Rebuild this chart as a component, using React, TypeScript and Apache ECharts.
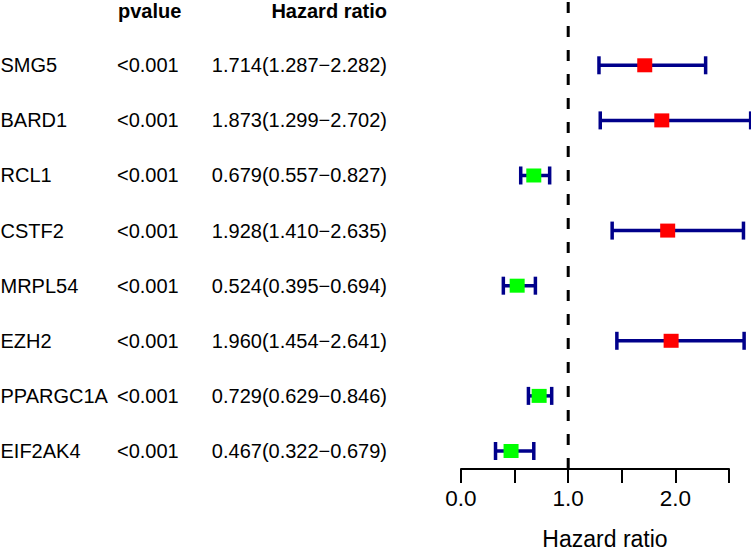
import React, { useEffect, useRef } from "react";
import * as echarts from "echarts";

const genes = ["SMG5", "BARD1", "RCL1", "CSTF2", "MRPL54", "EZH2", "PPARGC1A", "EIF2AK4"];
const pvalues = ["<0.001", "<0.001", "<0.001", "<0.001", "<0.001", "<0.001", "<0.001", "<0.001"];
const hr = [1.714, 1.873, 0.679, 1.928, 0.524, 1.96, 0.729, 0.467];
const hrLow = [1.287, 1.299, 0.557, 1.41, 0.395, 1.454, 0.629, 0.322];
const hrHigh = [2.282, 2.702, 0.827, 2.635, 0.694, 2.641, 0.846, 0.679];
const xTicks = { min: 0, max: 2.5, interval: 0.5 };

const FONT = "'Liberation Sans', Arial, sans-serif";
const Y_MIN = 0.673;
const Y_MAX = 9.185;

export default function App() {
  const ref = useRef<HTMLDivElement>(null);
  useEffect(() => {
    if (!ref.current) return;
    const chart = echarts.init(ref.current, undefined, { renderer: "svg" });
    const n = genes.length;
    const data = genes.map((g, i) => [hr[i], hrLow[i], hrHigh[i], n - i, i]);
    const fmt = (v: number) => v.toFixed(3);
    chart.setOption({
      animation: false,
      backgroundColor: "#ffffff",
      grid: { left: 461, right: 22, top: 0, bottom: 82 },
      xAxis: {
        type: "value",
        min: xTicks.min,
        max: xTicks.max,
        interval: xTicks.interval,
        splitLine: { show: false },
        axisLine: { show: true, lineStyle: { color: "#000", width: 2 } },
        axisTick: { show: true, length: 14, lineStyle: { color: "#000", width: 2 } },
        axisLabel: {
          margin: 18,
          fontSize: 22.5,
          color: "#000",
          fontFamily: FONT,
          formatter: (v: number) => (Math.abs(v - Math.round(v)) < 1e-9 ? v.toFixed(1) : ""),
        },
      },
      yAxis: { type: "value", min: Y_MIN, max: Y_MAX, show: false },
      graphic: [
        { type: "text", style: { text: "pvalue", x: 118, y: 10.5, verticalAlign: "middle", align: "left", fontSize: 20, fontWeight: "bold", fontFamily: FONT, fill: "#000" } },
        { type: "text", style: { text: "Hazard ratio", x: 387, y: 10.5, verticalAlign: "middle", align: "right", fontSize: 20, fontWeight: "bold", fontFamily: FONT, fill: "#000" } },
        { type: "text", style: { text: "Hazard ratio", x: 605, y: 539, verticalAlign: "middle", align: "center", fontSize: 23, fontFamily: FONT, fill: "#000" } },
      ],
      series: [
        {
          type: "line",
          data: [[1, Y_MAX], [1, Y_MIN]],
          symbol: "none",
          silent: true,
          lineStyle: { color: "#000", width: 3, type: [11, 13], dashOffset: 22 },
        },
        {
          type: "custom",
          clip: false,
          data,
          renderItem: (params: any, api: any) => {
            const y = api.value(3);
            const idx = api.value(4);
            const c = api.coord([api.value(0), y]);
            const lo = api.coord([api.value(1), y]);
            const hi = api.coord([api.value(2), y]);
            const col = api.value(0) > 1 ? "#ff0000" : "#00ff00";
            const lineStyle = { stroke: "#00008b", lineWidth: 3.5 };
            const capH = 9;
            const txt = (text: string, x: number, align: string) => ({
              type: "text",
              style: { text, x, y: c[1], align, verticalAlign: "middle", fontSize: 20, fontFamily: FONT, fill: "#000" },
            });
            return {
              type: "group",
              children: [
                { type: "line", shape: { x1: lo[0], y1: lo[1], x2: hi[0], y2: hi[1] }, style: lineStyle },
                { type: "line", shape: { x1: lo[0], y1: lo[1] - capH, x2: lo[0], y2: lo[1] + capH }, style: lineStyle },
                { type: "line", shape: { x1: hi[0], y1: hi[1] - capH, x2: hi[0], y2: hi[1] + capH }, style: lineStyle },
                { type: "rect", shape: { x: c[0] - 7.5, y: c[1] - 7, width: 15, height: 14 }, style: { fill: col } },
                txt(genes[idx], 0.5, "left"),
                txt(pvalues[idx], 117, "left"),
                txt(`${fmt(hr[idx])}(${fmt(hrLow[idx])}\u2212${fmt(hrHigh[idx])})`, 387, "right"),
              ],
            };
          },
        },
      ],
    });
    return () => chart.dispose();
  }, []);
  return <div ref={ref} style={{ position: "absolute", left: 0, top: 0, width: 751, height: 551 }} />;
}
